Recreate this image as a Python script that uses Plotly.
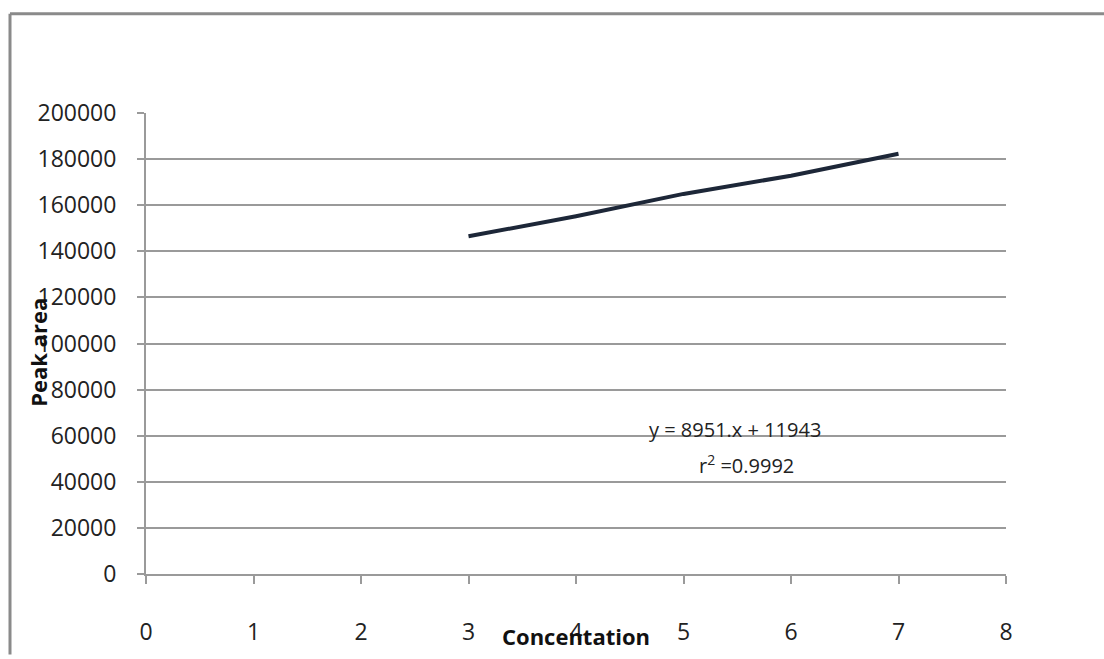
import plotly.graph_objects as go

# Calibration data
concentration = [3, 4, 5, 6, 7]
peak_area = [146500, 155200, 164900, 172800, 182300]

x_ticks = [0, 1, 2, 3, 4, 5, 6, 7, 8]
y_ticks = [0, 20000, 40000, 60000, 80000, 100000, 120000, 140000, 160000, 180000, 200000]

equation_text = "y = 8951.x + 11943"
r2_text = "r<sup>2</sup> =0.9992"

W, H = 1104, 659
L, R, T, B = 146, 98, 113, 77
PW, PH = W - L - R, H - T - B


def px(x):
    """Pixel column -> paper x fraction."""
    return (x - L) / PW


def py(y):
    """Pixel row -> paper y fraction."""
    return (H - B - y) / PH


FONT = "Open Sans, DejaVu Sans, sans-serif"

fig = go.Figure()
fig.add_trace(go.Scatter(
    x=concentration, y=peak_area, mode="lines",
    line=dict(color="#1d2738", width=4),
    showlegend=False, hoverinfo="skip",
))

tick_font = dict(family=FONT, size=23, color="#222222")

fig.update_layout(
    width=W, height=H,
    margin=dict(l=L, r=R, t=T, b=B, pad=0),
    paper_bgcolor="white", plot_bgcolor="white",
    xaxis=dict(
        range=[0, 8], tickvals=x_ticks, ticktext=[str(v) for v in x_ticks],
        showgrid=False, zeroline=False,
        showline=True, linecolor="#9a9a9a", linewidth=2,
        ticks="outside", ticklen=8, tickwidth=2, tickcolor="#9a9a9a",
        ticklabelstandoff=28, tickfont=tick_font,
    ),
    yaxis=dict(
        range=[0, 200000], tickvals=y_ticks, ticktext=[str(v) for v in y_ticks],
        showgrid=True, gridcolor="#9a9a9a", gridwidth=2, zeroline=False,
        showline=True, linecolor="#9a9a9a", linewidth=2,
        ticks="outside", ticklen=7, tickwidth=2, tickcolor="#9a9a9a",
        ticklabelstandoff=16, tickfont=tick_font,
    ),
    font=dict(family=FONT, color="#222222"),
)

# Axis titles
fig.add_annotation(
    x=px(38), y=py(356), xref="paper", yref="paper",
    text="<b>Peak area</b>", textangle=-90, showarrow=False,
    font=dict(size=22, color="#111111", family=FONT),
    xanchor="center", yanchor="middle",
)
fig.add_annotation(
    x=px(576), y=py(645), xref="paper", yref="paper",
    text="<b>Concentation</b>", showarrow=False,
    font=dict(size=22, color="#111111", family=FONT),
    xanchor="center", yanchor="middle",
)

# Regression equation
fig.add_annotation(
    x=px(735), y=py(435), xref="paper", yref="paper",
    text=equation_text, showarrow=False,
    font=dict(size=20, color="#222222", family=FONT), xanchor="center", yanchor="middle",
)
fig.add_annotation(
    x=px(746), y=py(471), xref="paper", yref="paper",
    text=r2_text, showarrow=False,
    font=dict(size=20, color="#222222", family=FONT), xanchor="center", yanchor="middle",
)

# Chart frame (left and top edges)
fig.add_shape(type="line", xref="paper", yref="paper",
              x0=px(10), x1=px(10), y0=py(H + 5), y1=py(12),
              line=dict(color="#8a8a8a", width=3))
fig.add_shape(type="line", xref="paper", yref="paper",
              x0=px(10), x1=px(W + 5), y0=py(12), y1=py(12),
              line=dict(color="#8a8a8a", width=3))

fig.write_html("out.html")
